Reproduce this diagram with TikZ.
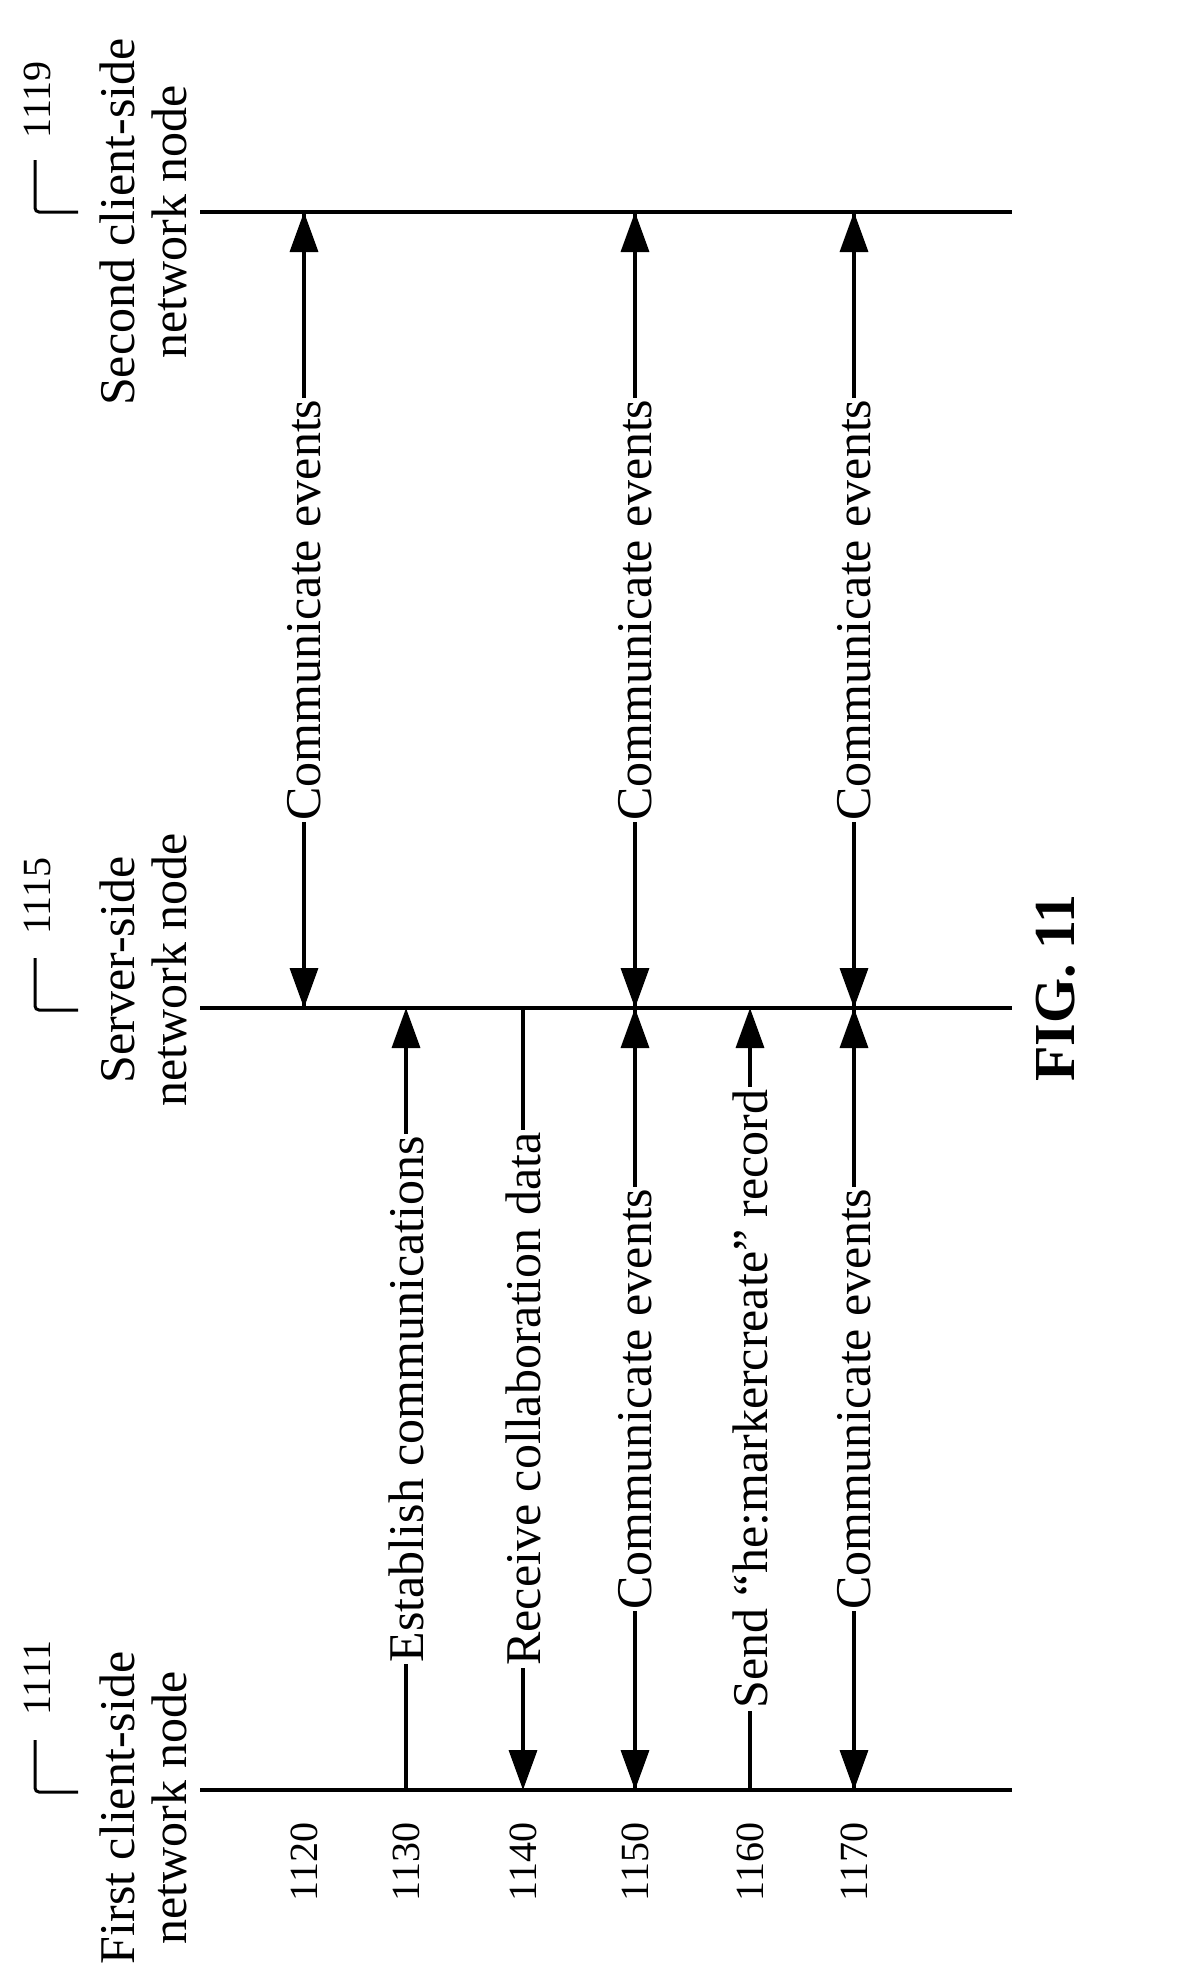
\documentclass[tikz,border=0pt]{standalone}
\usepackage{fontspec}
\setmainfont{Liberation Serif}
\usetikzlibrary{arrows.meta}
\begin{document}
\begin{tikzpicture}[x=1pt,y=-1pt,
  lifeline/.style={line width=3.5pt},
  msg/.style={line width=3.5pt},
  tip/.style={-{Triangle[length=40pt,width=28pt]}},
  lbl/.style={fill=white,inner sep=2pt,rotate=90,font=\fontsize{50}{56}\selectfont},
  hdr/.style={rotate=90,align=center,font=\fontsize{50}{52}\selectfont},
  num/.style={rotate=90,font=\fontsize{40}{44}\selectfont},
  hook/.style={line width=3pt,rounded corners=4pt}]
\useasboundingbox (0,0) rectangle (1181,1970);
% lifelines
\coordinate (c1s) at (200,1790); \coordinate (c1e) at (1012,1790);
\coordinate (ss) at (200,1008); \coordinate (se) at (1012,1008);
\coordinate (c2s) at (200,212); \coordinate (c2e) at (1012,212);
\draw[lifeline] (c1s) -- (c1e);
\draw[lifeline] (ss) -- (se);
\draw[lifeline] (c2s) -- (c2e);
% headers
\node[hdr] (h1) at (143,1808) {First client-side\\network node};
\node[hdr] (h2) at (143,970) {Server-side\\network node};
\node[hdr] (h3) at (143,222) {Second client-side\\network node};
\draw[hook] (35,1740) -- (35,1792) -- (78,1792);
\draw[hook] (35,958) -- (35,1010) -- (78,1010);
\draw[hook] (35,160) -- (35,212) -- (78,212);
\node[num] (n1111) at (37,1678) {1111};
\node[num] (n1115) at (37,896) {1115};
\node[num] (n1119) at (37,100) {1119};
% coordinates for messages
\foreach \n/\x in {1120/304,1130/406,1140/523,1150/635,1160/750,1170/854}{
  \coordinate (a\n) at (\x,1790);
  \coordinate (b\n) at (\x,1008);
  \coordinate (c\n) at (\x,212);
  \node[num] (r\n) at (\x,1862) {\n};
}
% 1120
\draw[msg,tip] (c1120) -- (b1120);
\draw[msg,tip] (b1120) -- node[lbl]{Communicate events} (c1120);
% 1130
\draw[msg,tip] (a1130) -- node[lbl]{Establish communications} (b1130);
% 1140
\draw[msg,tip] (b1140) -- node[lbl]{Receive collaboration data} (a1140);
% 1150
\draw[msg,tip] (b1150) -- (a1150);
\draw[msg,tip] (a1150) -- node[lbl]{Communicate events} (b1150);
\draw[msg,tip] (c1150) -- (b1150);
\draw[msg,tip] (b1150) -- node[lbl]{Communicate events} (c1150);
% 1160
\draw[msg,tip] (a1160) -- node[lbl]{Send “he:markercreate” record} (b1160);
% 1170
\draw[msg,tip] (b1170) -- (a1170);
\draw[msg,tip] (a1170) -- node[lbl]{Communicate events} (b1170);
\draw[msg,tip] (c1170) -- (b1170);
\draw[msg,tip] (b1170) -- node[lbl]{Communicate events} (c1170);
% figure label
\node[rotate=90,font=\bfseries\fontsize{58}{62}\selectfont] (fig) at (1056,988) {FIG. 11};
\end{tikzpicture}
\end{document}
